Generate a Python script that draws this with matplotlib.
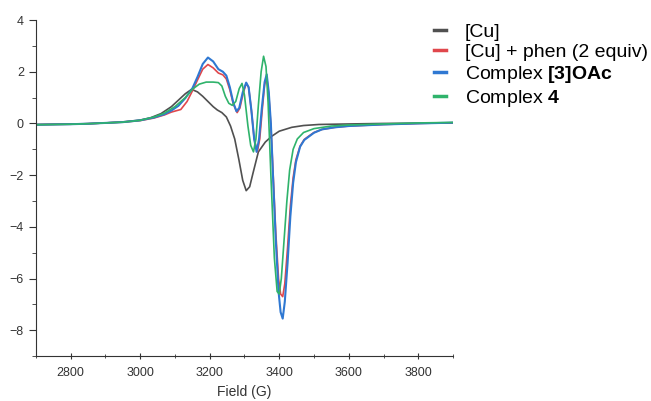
import numpy as np
import matplotlib.pyplot as plt
from matplotlib.ticker import MultipleLocator

plt.rcParams['font.family'] = ['Liberation Sans', 'DejaVu Sans']
plt.rcParams['mathtext.fontset'] = 'custom'
plt.rcParams['mathtext.rm'] = 'Liberation Sans'
plt.rcParams['mathtext.bf'] = 'Liberation Sans:bold'

# values (field in G, signal)
cu_field = [2700, 2750, 2800, 2850, 2900, 2950, 3000, 3030, 3060, 3090, 3110, 3130,
            3148, 3165, 3180, 3195, 3210, 3222, 3235, 3248, 3260, 3272, 3284, 3295,
            3305, 3315, 3325, 3340, 3360, 3378, 3400, 3436, 3470, 3514, 3600, 3700,
            3800, 3900]
cu_signal = [-0.04, -0.03, -0.02, -0.01, 0.02, 0.06, 0.13, 0.22, 0.38, 0.65, 0.9, 1.15,
             1.32, 1.22, 1.05, 0.85, 0.65, 0.52, 0.42, 0.25, -0.1, -0.6, -1.4, -2.2,
             -2.6, -2.45, -1.9, -1.1, -0.72, -0.5, -0.3, -0.15, -0.08, -0.04, -0.02, 0.0,
             0.01, 0.02]

phen_field = [2700, 2750, 2800, 2850, 2900, 2950, 3000, 3040, 3070, 3090, 3117, 3135,
              3150, 3165, 3180, 3195, 3210, 3225, 3238, 3248, 3258, 3268, 3279, 3287,
              3296, 3305, 3312, 3320, 3328, 3337, 3344, 3351, 3358, 3364, 3370, 3376,
              3382, 3390, 3398, 3404, 3410, 3416, 3424, 3432, 3440, 3448, 3460, 3472,
              3486, 3500, 3523, 3560, 3600, 3700, 3800, 3900]
phen_signal = [-0.05, -0.04, -0.03, -0.01, 0.02, 0.05, 0.11, 0.21, 0.33, 0.44, 0.54, 0.85,
               1.25, 1.68, 2.1, 2.28, 2.15, 1.95, 1.88, 1.72, 1.3, 0.75, 0.42, 0.6,
               1.15, 1.55, 1.4, 0.5, -0.6, -1.1, -0.6, 0.5, 1.5, 1.8, 1.1, -0.1,
               -1.8, -4.2, -6.0, -6.6, -6.7, -6.2, -4.8, -3.2, -2.1, -1.4, -0.88, -0.62,
               -0.48, -0.35, -0.23, -0.15, -0.1, -0.04, 0.0, 0.03]

oac_field = [2700, 2750, 2800, 2850, 2900, 2950, 3000, 3040, 3070, 3090, 3110, 3130,
             3150, 3165, 3180, 3195, 3210, 3225, 3238, 3248, 3258, 3268, 3277, 3285,
             3295, 3305, 3312, 3320, 3328, 3335, 3342, 3350, 3358, 3364, 3370, 3376,
             3382, 3390, 3398, 3404, 3410, 3416, 3424, 3432, 3440, 3448, 3460, 3472,
             3486, 3500, 3523, 3560, 3600, 3700, 3800, 3900]
oac_signal = [-0.05, -0.04, -0.03, -0.01, 0.02, 0.05, 0.12, 0.23, 0.36, 0.5, 0.68, 0.98,
              1.35, 1.8, 2.3, 2.55, 2.4, 2.1, 2.0, 1.85, 1.4, 0.8, 0.47, 0.6,
              1.2, 1.58, 1.4, 0.5, -0.6, -1.1, -0.6, 0.6, 1.6, 1.9, 1.2, 0.0,
              -2.0, -4.5, -6.5, -7.3, -7.55, -6.9, -5.4, -3.6, -2.3, -1.5, -0.9, -0.64,
              -0.5, -0.36, -0.23, -0.15, -0.1, -0.04, 0.0, 0.03]

c4_field = [2700, 2750, 2800, 2850, 2900, 2950, 3000, 3040, 3070, 3100, 3130, 3150,
            3170, 3190, 3210, 3225, 3235, 3245, 3255, 3265, 3275, 3285, 3293, 3300,
            3310, 3318, 3326, 3333, 3340, 3348, 3355, 3362, 3368, 3376, 3386, 3394,
            3400, 3406, 3414, 3422, 3430, 3440, 3452, 3470, 3500, 3550, 3600, 3700,
            3800, 3900]
c4_signal = [-0.05, -0.04, -0.03, -0.01, 0.02, 0.05, 0.12, 0.25, 0.4, 0.65, 1.0, 1.32,
             1.52, 1.6, 1.6, 1.58, 1.45, 1.05, 0.78, 0.7, 0.85, 1.35, 1.55, 1.1,
             -0.1, -0.85, -1.1, -0.6, 0.7, 2.0, 2.6, 2.2, 0.8, -2.0, -5.2, -6.5,
             -6.6, -6.0, -4.5, -3.0, -1.8, -1.0, -0.6, -0.35, -0.2, -0.1, -0.06, -0.02,
             0.02, 0.04]

fig = plt.figure(figsize=(6.51, 4.01), dpi=100)
ax = fig.add_axes([0.055, 0.112, 0.641, 0.838])

ax.plot(cu_field, cu_signal, color='#505050', lw=1.2, label='[Cu]')
ax.plot(phen_field, phen_signal, color='#e0474c', lw=1.2, label='[Cu] + phen (2 equiv)')
ax.plot(oac_field, oac_signal, color='#2f78d2', lw=1.5, label=r'Complex $\mathbf{[3]OAc}$')
ax.plot(c4_field, c4_signal, color='#2fb36b', lw=1.2, label=r'Complex $\mathbf{4}$')

ax.set_xlim(2700, 3900)
ax.set_ylim(-9, 4)
ax.xaxis.set_major_locator(MultipleLocator(200))
ax.xaxis.set_minor_locator(MultipleLocator(100))
ax.yaxis.set_major_locator(MultipleLocator(2))
ax.yaxis.set_minor_locator(MultipleLocator(1))
ax.tick_params(axis='both', which='major', labelsize=9, colors='#333333', length=5)
ax.tick_params(axis='both', which='minor', length=3, color='#333333')
ax.tick_params(axis='x', which='both', direction='inout', pad=5)
for s in ['top', 'right']:
    ax.spines[s].set_visible(False)
for s in ['left', 'bottom']:
    ax.spines[s].set_color('#333333')
ax.set_xlabel('Field (G)', fontsize=10, color='#333333', labelpad=5)

leg = fig.legend(loc='upper left', bbox_to_anchor=(434 / 651, 1 - 23 / 401), frameon=False,
                 fontsize=14, handlelength=0.6, handletextpad=1.0, labelspacing=0.15,
                 borderaxespad=0, borderpad=0)
for line in leg.get_lines():
    line.set_linewidth(2.5)

fig.savefig('out.png', dpi=100)
